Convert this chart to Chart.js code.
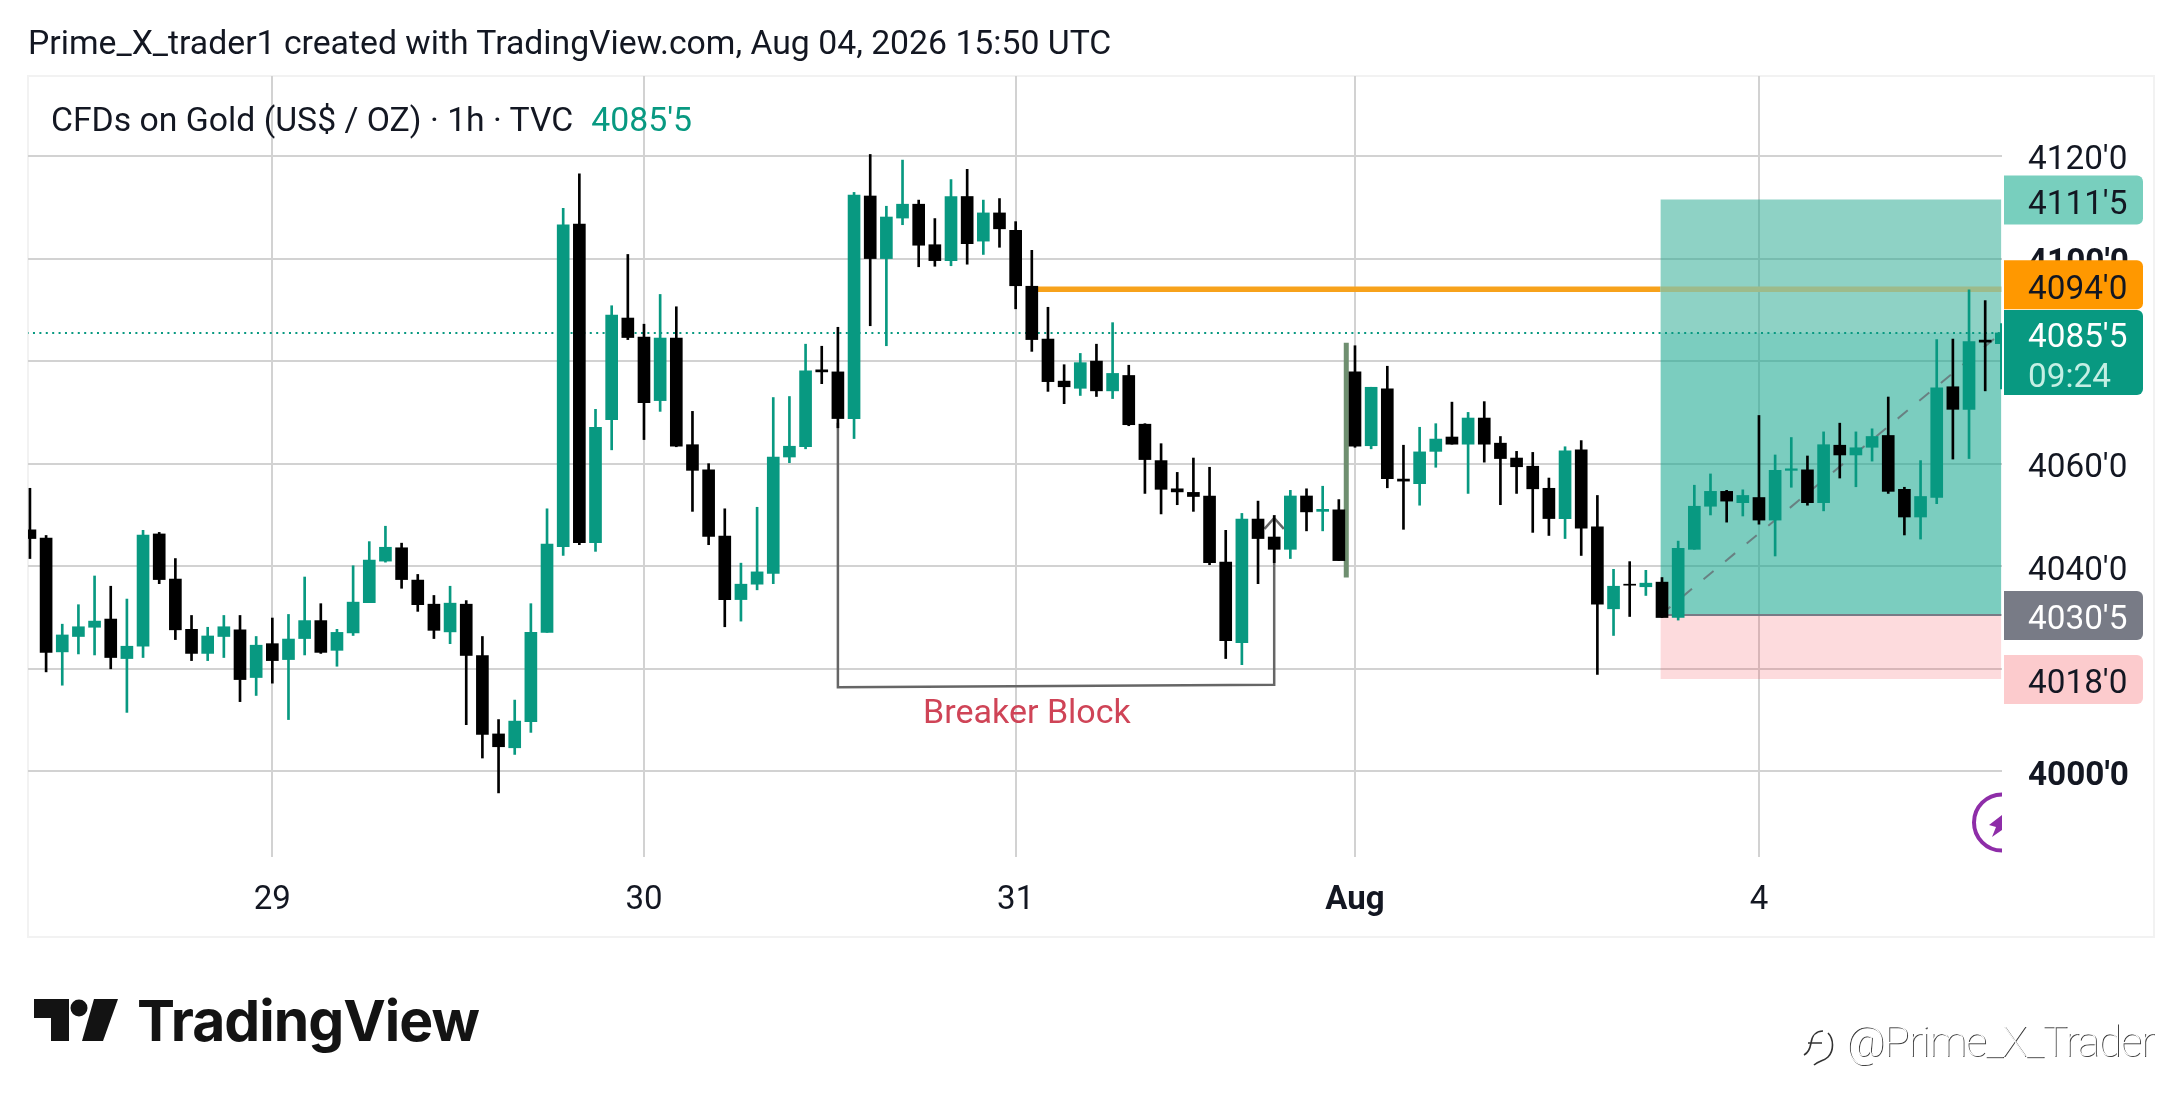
<!DOCTYPE html>
<html>
<head>
<meta charset="utf-8">
<title>CFDs on Gold</title>
<script src="https://cdn.jsdelivr.net/npm/chart.js@4/dist/chart.umd.js"></script>
<style>
    html, body { margin: 0; padding: 0; background: #fff; }
    body { width: 2181px; height: 1106px; position: relative; overflow: hidden; font-family: Roboto, sans-serif; color: #131722; }
    #frame { position: absolute; left: 27px; top: 75px; width: 2124px; height: 859px; border: 2px solid #f2f2f2; }
    canvas { position: absolute; left: 0; top: 0; }
    .txt { position: absolute; white-space: nowrap; }
    #title { left: 28px; top: 23px; font-size: 33.75px; line-height: 40px; }
    #legend { left: 51px; top: 100px; font-size: 33.75px; line-height: 40px; }
    #legend span { color: #089981; margin-left: 18px; }
    #logoword { left: 137px; top: 986px; font-family: Inter, sans-serif; font-weight: 700; font-size: 57px; line-height: 70px; color: #131313; letter-spacing: -1px; }
    #mark { position: absolute; left: 30px; top: 990px; }
    #badge { position: absolute; left: 1965px; top: 785px; }
    #watermark { left: 1846px; top: 1017px; font-weight: 100; font-size: 42px; line-height: 50px; letter-spacing: -1px; color: #fff; text-shadow: 1px 1px 0 #444; }
    #wmicon { position: absolute; left: 1798px; top: 1025px; }
</style>
</head>
<body>
<div id="frame"></div>
<canvas id="chart" width="2181" height="1106"></canvas>
<div class="txt" id="title">Prime_X_trader1 created with TradingView.com, Aug 04, 2026 15:50 UTC</div>
<div class="txt" id="legend">CFDs on Gold (US$ / OZ) · 1h · TVC<span>4085'5</span></div>
<svg id="badge" width="37" height="76" viewBox="0 0 37 76">
    <circle cx="37" cy="37.5" r="28" fill="none" stroke="#8e2da8" stroke-width="4"></circle>
    <polygon points="37,30 24,40 31,42 27,52 37,45" fill="#8e2da8"></polygon>
</svg>
<svg id="mark" width="100" height="60" viewBox="0 0 100 60">
    <polygon points="4,9 39,9 39,51 21,51 21,28 4,28" fill="#131313"></polygon>
    <circle cx="49" cy="18" r="8.5" fill="#131313"></circle>
    <polygon points="64,9 88,9 73,51 52,51" fill="#131313"></polygon>
</svg>
<div class="txt" id="logoword">TradingView</div>
<svg id="wmicon" width="44" height="44" viewBox="0 0 44 44">
    <path d="M6 30 C10 28 12 24 13 18 C14 10 19 6 25 6 M10 18 L24 18 M30 8 C36 14 36 26 30 32 C26 36 20 36 16 40" fill="none" stroke="#333" stroke-width="1.6"></path>
</svg>
<div class="txt" id="watermark">@Prime_X_Trader</div>
<script>
Chart.defaults.font.family = 'Roboto, sans-serif';

const opens = [4047.1,4045.5,4023.3,4026.3,4028.1,4029.7,4022,4024.4,4046.3,4037.5,4027.7,4023,4026.3,4027.6,4018.3,4024.9,4021.8,4025.9,4029.4,4023.6,4027,4032.9,4041,4043.6,4037.3,4032.6,4027.2,4032.6,4022.6,4007.3,4004.6,4009.7,4027.1,4043.8,4106.7,4044.6,4068.6,4088.4,4084.7,4072.3,4084.5,4063.7,4058.8,4045.9,4033.5,4036.5,4038.6,4061.3,4063.3,4078.3,4077.9,4068.8,4112.2,4100,4107.9,4110.6,4102.7,4099.6,4112.1,4103.4,4108.9,4105.5,4094.6,4084.3,4076.1,4074.7,4080,4074.2,4077.2,4067.7,4060.6,4055.1,4054.4,4053.7,4040.8,4025.1,4049.2,4045.7,4043.3,4053.7,4050.7,4051,4077.9,4063.5,4074.6,4057,4056.1,4062.4,4065.2,4063.8,4068.9,4064,4061.1,4059.5,4055.2,4049.3,4062.7,4047.7,4031.7,4036.5,4036,4036.9,4030,4043.3,4051.7,4054.6,4052.4,4053.4,4049,4058.7,4058.8,4052.4,4063.6,4061.7,4063.2,4065.5,4055,4049.6,4053.4,4075,4070.6,4084.1,4083.4];
const highs = [4055.2,4046,4028.7,4032.5,4038.1,4036.1,4033.6,4047,4046.6,4041.5,4030.4,4028.1,4030.4,4030.4,4026.3,4029.9,4030.6,4037.9,4032.7,4027.7,4040.1,4044.8,4047.8,4044.5,4038.4,4034.3,4036.1,4033.3,4026.3,4010.1,4013.9,4032.7,4051.2,4109.8,4116.5,4070.6,4090.8,4100.8,4087.2,4093,4090.6,4070.2,4060,4051.2,4040.6,4051.5,4072.9,4073.1,4083.3,4082.9,4086.6,4112.9,4120.3,4110.2,4119.2,4111.4,4107.8,4115.4,4117.4,4111.4,4111.7,4107.2,4101.6,4090.5,4079.3,4081.5,4083.3,4087.5,4079.2,4067.8,4063.9,4058.3,4061.1,4059.3,4047,4050.3,4052.7,4049.9,4054.8,4055.1,4055.6,4053,4083,4074.9,4079,4063.6,4067.1,4067.8,4072,4070,4072.1,4065.3,4062.4,4062.2,4057.2,4063.3,4064.5,4053.8,4039.4,4040.9,4039.2,4037.8,4044.9,4055.8,4058,4054.8,4054.9,4069.4,4061.7,4065.1,4061.5,4066.2,4067.9,4066.2,4066.8,4073,4055.4,4060.6,4084.2,4084.3,4093.9,4091.8,4087.3];
const lows = [4041.5,4019.4,4016.8,4022.9,4022.7,4020,4011.5,4022.2,4036.6,4025.7,4021.6,4021.6,4022.2,4013.6,4014.8,4017.2,4010.1,4022.7,4023,4020.5,4026.5,4032.9,4040.8,4035.7,4031.2,4025.9,4024.9,4009.1,4002.6,3995.8,4003.3,4007.6,4027.1,4042.1,4044.2,4042.9,4062.7,4084.2,4064.7,4070.2,4063.3,4050.7,4044.2,4028.2,4029.3,4035.4,4036.6,4060.2,4062.9,4075.6,4067,4064.9,4086.9,4083,4106.6,4098.4,4098.5,4098.6,4098.9,4100.8,4102.2,4090.2,4081.9,4074.1,4071.7,4073.3,4073.1,4072.7,4067.4,4054.2,4050.2,4052,4050.7,4040.3,4022,4020.8,4036.6,4040.7,4041.5,4046.9,4046.9,4041.1,4063.2,4062.9,4055.3,4047.2,4051.9,4059.3,4063.8,4054.2,4060.3,4052,4054.2,4046.6,4046,4045.4,4042.1,4018.9,4026.5,4030.2,4034.3,4030,4029.5,4043.3,4050,4048.6,4049.8,4048.2,4042,4055.4,4051.9,4050.8,4057.2,4055.5,4060.5,4054.2,4046.1,4045.3,4052.2,4060.9,4061,4074.2,4074.6];
const closes = [4045.4,4023.2,4026.6,4028.2,4029.3,4022.2,4024.4,4046.1,4037.4,4027.6,4023,4026.4,4028.2,4017.9,4024.6,4021.6,4025.8,4029.4,4023.2,4027.1,4033,4041.2,4043.7,4037.4,4032.5,4027.5,4032.8,4022.6,4007.2,4004.8,4009.8,4027.1,4044.3,4106.6,4044.6,4067.1,4089,4084.6,4071.9,4084.5,4063.4,4058.7,4045.8,4033.5,4036.5,4038.9,4061.3,4063.4,4078.1,4077.9,4068.8,4112.4,4100,4108.1,4110.6,4102.6,4099.6,4112.1,4102.9,4108.9,4105.8,4094.7,4084.2,4076,4075,4079.7,4074.2,4077.6,4067.6,4060.8,4055,4054.5,4053.6,4040.7,4025.5,4049.2,4045.4,4043.3,4053.7,4050.6,4051.1,4041.1,4063.4,4074.9,4057.1,4056.6,4062.3,4064.8,4063.8,4068.9,4063.8,4061,4059.4,4055.1,4049.3,4062.5,4047.4,4032.6,4036.1,4036.3,4036.7,4030,4043.5,4051.7,4054.6,4052.7,4053.8,4049,4058.7,4059,4052.4,4063.7,4061.7,4063.1,4065.3,4054.6,4049.6,4053.6,4074.8,4070.6,4083.8,4083.7,4085.5];

// axis ticks: bar index -> day label
const dayIndexes = [15, 38, 61, 82, 107];
const dayLabels = ['29', '30', '31', 'Aug', '4'];
const priceTicks = [4000, 4020, 4040, 4060, 4080, 4100, 4120];
const boldPrices = [4000, 4100];

// position tool and drawings, in price / bar index
const lastPrice = 4085.5;
const targetPrice = 4111.5;
const entryPrice = 4030.5;
const stopPrice = 4018;
const toolStart = 100.9;
const lastBar = 122;
const resistancePrice = 4094;
const resistanceStart = 62;
const breakerX = [50, 50, 77, 77, 76.4, 77, 77.6];
const breakerY = [4068, 4016.4, 4016.9, 4049.4, 4047.3, 4049.4, 4047.3];
const markerX = [81.46, 81.46];
const markerY = [4083.6, 4037.8];

const UP = '#089981';
const DOWN = '#000000';

function fmtPrice(v) {
    return v.toFixed(1).replace('.', "'");
}

function pts(xs, ys) {
    return xs.map((x, i) => ({x: x, y: ys[i]}));
}

function hLine(x0, x1, y) {
    return [{x: x0, y: y}, {x: x1, y: y}];
}

const candleColor = ctx => closes[ctx.dataIndex] >= opens[ctx.dataIndex] ? UP : DOWN;

function lineSet(data, color, width, order, extra) {
    return Object.assign({
        type: 'line',
        data: data,
        borderColor: color,
        borderWidth: width,
        pointRadius: 0,
        tension: 0,
        fill: false,
        order: order
    }, extra || {});
}

const datasets = [
    {
        label: 'bodies',
        data: closes.map((c, i) => ({x: i, y: [opens[i], c]})),
        backgroundColor: candleColor,
        barThickness: 12,
        grouped: false,
        order: 1
    },
    {
        label: 'wicks',
        data: lows.map((l, i) => ({x: i, y: [l, highs[i]]})),
        backgroundColor: candleColor,
        barThickness: 2,
        grouped: false,
        order: 2
    },
    lineSet(pts(breakerX, breakerY), '#666666', 2.5, 3),
    lineSet(pts(markerX, markerY), '#6f8f70', 5, 3),
    lineSet(hLine(toolStart, lastBar, entryPrice), '#787b86', 2, 4),
    lineSet(pts([toolStart, lastBar], [entryPrice, lastPrice]), 'rgba(100,110,115,0.8)', 2, 4, {borderDash: [13, 15]}),
    lineSet(hLine(-1, lastBar, lastPrice), UP, 2, 5, {borderDash: [2, 4.4]}),
    lineSet(hLine(toolStart, lastBar, resistancePrice), '#9dbb8b', 5.5, 5),
    lineSet(hLine(toolStart, lastBar, targetPrice), 'transparent', 0, 6, {fill: {value: lastPrice}, backgroundColor: 'rgba(30,165,140,0.5)'}),
    lineSet(hLine(toolStart, lastBar, lastPrice), 'transparent', 0, 6, {fill: {value: entryPrice}, backgroundColor: 'rgba(20,165,140,0.56)'}),
    lineSet(hLine(toolStart, lastBar, entryPrice), 'transparent', 0, 6, {fill: {value: stopPrice}, backgroundColor: 'rgba(242,54,69,0.18)'}),
    lineSet(hLine(resistanceStart, toolStart, resistancePrice), '#f7a21b', 5.5, 7)
];

// price tags on the right scale
const tags = [
    {price: targetPrice, bg: '#78cfbe', fg: '#131722', shift: 0},
    {price: stopPrice, bg: '#fccbcd', fg: '#131722', shift: 0},
    {price: entryPrice, bg: '#787b86', fg: '#ffffff', shift: 0},
    {price: resistancePrice, bg: '#ff9800', fg: '#131722', shift: -5},
];

const overlays = {
    id: 'overlays',
    afterDatasetsDraw(chart) {
        const {ctx, scales} = chart;
        ctx.save();
        ctx.fillStyle = '#cf4457';
        ctx.font = '34px Roboto, sans-serif';
        ctx.textAlign = 'center';
        ctx.textBaseline = 'middle';
        ctx.fillText('Breaker Block', scales.x.getPixelForValue(61.7), scales.y.getPixelForValue(4011.0));
        ctx.restore();
    },
    afterDraw(chart) {
        const {ctx, scales} = chart;
        const left = chart.chartArea.right + 2;
        const w = 139;
        ctx.save();
        ctx.font = '33.3px Roboto, sans-serif';
        ctx.textBaseline = 'middle';
        ctx.textAlign = 'left';
        tags.forEach(t => {
            const y = scales.y.getPixelForValue(t.price) + t.shift;
            ctx.fillStyle = t.bg;
            ctx.beginPath();
            ctx.roundRect(left, y - 24, w, 49, [0, 6, 6, 0]);
            ctx.fill();
            ctx.fillStyle = t.fg;
            ctx.fillText(fmtPrice(t.price), left + 24, y + 6);
        });
        // last price tag has the countdown under it
        const y = scales.y.getPixelForValue(lastPrice);
        ctx.fillStyle = UP;
        ctx.beginPath();
        ctx.roundRect(left, y - 23, w, 85, [0, 6, 6, 0]);
        ctx.fill();
        ctx.fillStyle = '#ffffff';
        ctx.fillText(fmtPrice(lastPrice), left + 24, y + 6);
        ctx.fillStyle = '#c4efe4';
        ctx.fillText('09:24', left + 24, y + 46);
        ctx.restore();
    }
};

new Chart(document.getElementById('chart'), {
    type: 'bar',
    data: {datasets: datasets},
    options: {
        responsive: false,
        animation: false,
        devicePixelRatio: 1,
        events: [],
        layout: {padding: {left: 28, top: 76, right: 29, bottom: 169}},
        plugins: {legend: {display: false}, tooltip: {enabled: false}},
        scales: {
            x: {
                type: 'linear',
                offset: false,
                min: -0.12,
                max: 122.04,
                afterFit: s => { s.height = 80; },
                afterBuildTicks: s => { s.ticks = dayIndexes.map(v => ({value: v})); },
                border: {display: false},
                grid: {offset: false, color: '#d2d2d2', lineWidth: 2, drawTicks: false},
                ticks: {
                    autoSkip: false,
                    maxRotation: 0,
                    padding: 24,
                    color: '#131722',
                    font: ctx => ({size: 33, weight: dayLabels[dayIndexes.indexOf(ctx.tick && ctx.tick.value)] === 'Aug' ? 'bold' : 'normal'}),
                    callback: v => dayLabels[dayIndexes.indexOf(v)]
                }
            },
            y: {
                position: 'right',
                min: 3983.3,
                max: 4135.6,
                afterFit: s => { s.width = 150; },
                afterBuildTicks: s => { s.ticks = priceTicks.map(v => ({value: v})); },
                border: {display: false},
                grid: {color: '#d2d2d2', lineWidth: 2, drawTicks: false},
                ticks: {
                    padding: 26,
                    labelOffset: 5,
                    color: '#131722',
                    font: ctx => ({size: 33.3, weight: ctx.tick && boldPrices.includes(ctx.tick.value) ? 'bold' : 'normal'}),
                    callback: v => fmtPrice(v)
                }
            }
        }
    },
    plugins: [overlays]
});
</script>
</body>
</html>
